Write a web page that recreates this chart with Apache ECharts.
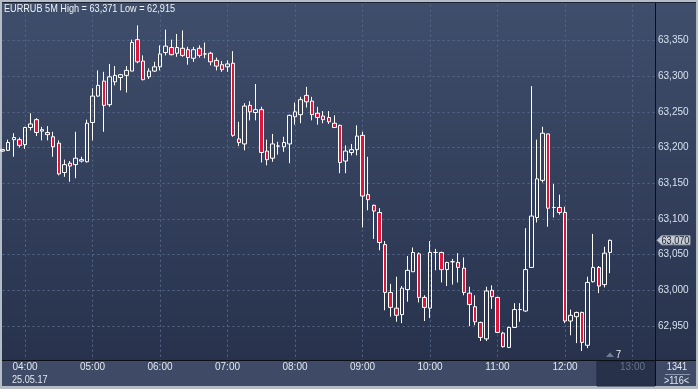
<!DOCTYPE html>
<html><head><meta charset="utf-8">
<script src="https://cdn.jsdelivr.net/npm/echarts@6/dist/echarts.min.js"></script>
<style>html,body{margin:0;padding:0;background:#b4bcc8;overflow:hidden}#c{width:698px;height:389px}</style>
</head><body><div id="c"></div>
<script>
// 5-minute bar times (category axis)
const categories = [
 '03:40','03:45','03:50','03:55',
 '04:00','04:05','04:10','04:15','04:20','04:25','04:30','04:35','04:40','04:45','04:50','04:55',
 '05:00','05:05','05:10','05:15','05:20','05:25','05:30','05:35','05:40','05:45','05:50','05:55',
 '06:00','06:05','06:10','06:15','06:20','06:25','06:30','06:35','06:40','06:45','06:50','06:55',
 '07:00','07:05','07:10','07:15','07:20','07:25','07:30','07:35','07:40','07:45','07:50','07:55',
 '08:00','08:05','08:10','08:15','08:20','08:25','08:30','08:35','08:40','08:45','08:50','08:55',
 '09:00','09:05','09:10','09:15','09:20','09:25','09:30','09:35','09:40','09:45','09:50','09:55',
 '10:00','10:05','10:10','10:15','10:20','10:25','10:30','10:35','10:40','10:45','10:50','10:55',
 '11:00','11:05','11:10','11:15','11:20','11:25','11:30','11:35','11:40','11:45','11:50','11:55',
 '12:00','12:05','12:10','12:15','12:20','12:25','12:30','12:35','12:40','12:45','12:50','12:55',
 '13:00','13:05','13:10','13:15','13:20'
];
const hourLabels = ['04:00','05:00','06:00','07:00','08:00','09:00','10:00','11:00','12:00','13:00'];
const futureLabel = '13:00';
const dateLabel = '25.05.17';
const titleText = 'EURRUB 5M High = 63,371 Low = 62,915';

const opens = [
 63.195,63.196,63.211,63.211,
 63.204,63.228,63.239,63.223,63.221,63.215,63.206,63.165,63.178,63.176,63.181,63.180,
 63.235,63.272,63.293,63.260,63.292,63.298,63.301,63.307,63.351,63.321,63.299,63.307,
 63.313,63.333,63.340,63.332,63.339,63.337,63.325,63.339,63.331,63.332,63.322,63.316,
 63.313,63.318,63.212,63.205,63.259,63.249,63.253,63.195,63.185,63.202,63.201,63.205,
 63.243,63.246,63.273,63.265,63.248,63.244,63.242,63.234,63.231,63.181,63.193,63.197,
 63.217,63.134,63.119,63.109,63.064,62.997,62.975,62.966,63.001,63.026,63.051,62.990,
 62.975,63.053,63.053,63.029,63.040,63.039,63.031,62.996,62.977,62.955,62.932,63.000,
 62.990,62.940,62.920,62.948,62.973,62.971,63.032,63.102,63.154,63.219,63.116,63.116,
 63.109,62.957,62.963,62.969,62.923,63.012,63.032,63.008,63.053
];
const closes = [
 63.197,63.207,63.214,63.203,
 63.228,63.233,63.221,63.225,63.218,63.201,63.163,63.176,63.174,63.185,63.183,63.234,
 63.272,63.287,63.259,63.299,63.301,63.302,63.308,63.347,63.320,63.295,63.307,63.313,
 63.331,63.342,63.330,63.340,63.329,63.326,63.337,63.329,63.331,63.320,63.314,63.309,
 63.317,63.217,63.207,63.258,63.250,63.253,63.193,63.183,63.205,63.202,63.207,63.245,
 63.250,63.267,63.264,63.246,63.242,63.239,63.236,63.228,63.179,63.195,63.197,63.216,
 63.132,63.127,63.111,63.067,62.997,62.976,62.965,63.003,63.028,63.053,62.990,62.976,
 63.053,63.053,63.029,63.039,63.040,63.032,62.997,62.980,62.956,62.934,62.999,62.991,
 62.941,62.921,62.948,62.973,62.973,63.029,63.104,63.156,63.220,63.115,63.116,63.109,
 62.957,62.965,62.969,62.927,63.011,63.032,63.006,63.052,63.070
];
const lows = [
 63.194,63.195,63.187,63.200,
 63.198,63.224,63.216,63.210,63.210,63.187,63.161,63.159,63.152,63.157,63.179,63.179,
 63.210,63.271,63.222,63.257,63.287,63.280,63.277,63.307,63.318,63.294,63.296,63.306,
 63.308,63.329,63.329,63.327,63.327,63.316,63.320,63.326,63.325,63.315,63.308,63.306,
 63.306,63.215,63.202,63.196,63.238,63.238,63.179,63.175,63.180,63.190,63.194,63.178,
 63.232,63.234,63.256,63.238,63.232,63.234,63.233,63.228,63.164,63.164,63.189,63.189,
 63.088,63.112,63.072,63.056,62.972,62.963,62.956,62.954,62.984,63.026,62.983,62.957,
 62.961,63.028,63.011,63.006,63.008,63.011,62.993,62.950,62.951,62.929,62.929,62.974,
 62.940,62.920,62.919,62.948,62.956,62.970,63.032,63.095,63.151,63.089,63.102,63.106,
 62.954,62.937,62.926,62.915,62.919,63.011,62.996,63.004,63.024
];
const highs = [
 63.198,63.211,63.220,63.214,
 63.229,63.248,63.241,63.229,63.230,63.222,63.210,63.183,63.181,63.222,63.187,63.239,
 63.283,63.308,63.306,63.317,63.314,63.303,63.314,63.351,63.371,63.329,63.311,63.320,
 63.343,63.365,63.351,63.359,63.364,63.341,63.341,63.343,63.347,63.334,63.326,63.321,
 63.322,63.335,63.236,63.262,63.265,63.289,63.257,63.211,63.219,63.208,63.215,63.246,
 63.263,63.271,63.285,63.271,63.257,63.251,63.251,63.245,63.232,63.203,63.205,63.231,
 63.222,63.187,63.120,63.115,63.069,63.009,63.019,63.006,63.048,63.060,63.053,62.993,
 63.069,63.058,63.054,63.040,63.044,63.052,63.046,63.005,62.993,62.956,63.005,63.007,
 62.991,62.942,62.949,62.982,62.982,63.087,63.286,63.211,63.229,63.219,63.149,63.134,
 63.117,62.973,62.970,62.970,63.019,63.079,63.034,63.061,63.071
];
const barCountText = '1341';
const visibleBarsText = '>116<';
const markerText = '7';

const FONT = '"Liberation Sans","Arial",sans-serif';
const fmt = v => v.toFixed(3).replace('.', ',');
const candleData = opens.map((o, i) => [o, closes[i], lows[i], highs[i]]);

const chart = echarts.init(document.getElementById('c'), null, {renderer: 'canvas'});
const gridLine = {color: '#56668a', type: [2, 3], width: 1};
const option = {
  animation: false,
  backgroundColor: '#b4bcc8',
  grid: {left: 2.5, right: 43, top: 4.7, bottom: 27.3},
  xAxis: {
    type: 'category', data: categories, boundaryGap: false,
    axisLine: {show: false}, axisTick: {show: false},
    axisLabel: {
      interval: (i, v) => hourLabels.includes(v),
      formatter: v => v === futureLabel ? '{g|' + v + '}' : v,
      color: '#e2e9f2', fontFamily: FONT, fontSize: 10, margin: 1, lineHeight: 10,
      rich: {g: {color: '#66748e', fontFamily: FONT, fontSize: 10, lineHeight: 10}}
    },
    splitLine: {show: true, interval: (i, v) => hourLabels.includes(v), lineStyle: gridLine}
  },
  yAxis: {
    type: 'value', position: 'right', min: 62.9, max: 63.4, interval: 0.05,
    axisLine: {show: false}, axisTick: {show: false},
    axisLabel: {showMinLabel: false, showMaxLabel: false, margin: 3, color: '#d6e1f0',
      fontFamily: FONT, fontSize: 10, formatter: fmt},
    splitLine: {show: true, showMinLine: false, showMaxLine: false, lineStyle: gridLine}
  },
  series: [{
    type: 'candlestick', data: candleData, barWidth: 4,
    itemStyle: {color: 'rgba(0,0,0,0)', color0: '#e3143a', borderColor: '#ffffff',
      borderColor0: '#ffffff', borderColorDoji: '#ffffff', borderWidth: 1}
  }]
};
chart.setOption(option);

const lastClose = closes[closes.length - 1];
const py = chart.convertToPixel({yAxisIndex: 0}, lastClose);
const bgGrad = {type: 'linear', x: 0, y: 0, x2: 0, y2: 1, colorStops: [
  {offset: 0, color: '#3f4e6b'}, {offset: 1, color: '#28324d'}]};
// condensed-looking text: 11px scaled horizontally
const txt = (text, x, y, fill, align) => ({
  type: 'text', z: 100, silent: true, x: x, y: y, scaleX: 0.83, scaleY: 1,
  style: {text, x: 0, y: 0, fill, font: '11px ' + FONT, align: align, textAlign: align,
    verticalAlign: 'middle', textVerticalAlign: 'middle'}
});
chart.setOption({graphic: {elements: [
  {type: 'rect', z: -10, silent: true, shape: {x: 2, y: 2, width: 653, height: 358}, style: {fill: bgGrad}},
  {type: 'rect', z: -10, silent: true, shape: {x: 656, y: 2, width: 40, height: 358}, style: {fill: bgGrad}},
  {type: 'rect', z: -10, silent: true, shape: {x: 2, y: 361, width: 694, height: 25}, style: {fill: '#3e4a66'}},
  {type: 'rect', z: -9, silent: true, shape: {x: 597, y: 361, width: 58, height: 25}, style: {fill: '#28314a', stroke: '#222a3e', lineWidth: 1}},
  {type: 'line', z: 100, silent: true, shape: {x1: 2, y1: 360.5, x2: 696, y2: 360.5}, style: {stroke: '#0c0f16', lineWidth: 1}},
  {type: 'line', z: 100, silent: true, shape: {x1: 655.5, y1: 2, x2: 655.5, y2: 386}, style: {stroke: '#0c0f16', lineWidth: 1}},
  {type: 'line', z: 100, silent: true, shape: {x1: 2, y1: 2.5, x2: 696, y2: 2.5}, style: {stroke: '#1c2233', lineWidth: 1}},
  txt(titleText, 4, 9, '#eef2f8', 'left'),
  txt(dateLabel, 12, 379.5, '#e2e9f2', 'left'),
  txt(barCountText, 677, 367, '#e2e9f2', 'center'),
  {type: 'line', z: 100, silent: true, shape: {x1: 665, y1: 374.5, x2: 690, y2: 374.5}, style: {stroke: '#8a96ac', lineWidth: 1}},
  txt(visibleBarsText, 676.5, 381, '#e2e9f2', 'center'),
  {type: 'polygon', z: 100, silent: true, shape: {points: [[606, 357], [610, 352.5], [614, 357]]}, style: {fill: '#6f7d96'}},
  txt(markerText, 616, 355, '#e8eef6', 'left'),
  {type: 'polygon', z: 100, silent: true, shape: {points: [[657, py], [661.5, py - 4.5], [690, py - 4.5], [690, py + 4.5], [661.5, py + 4.5]]},
    style: {fill: '#c6cbd3', stroke: '#9aa3b2', lineWidth: 1}},
  txt(fmt(lastClose), 661.5, py + 0.5, '#1b2233', 'left')
]}});
</script>
</body></html>
